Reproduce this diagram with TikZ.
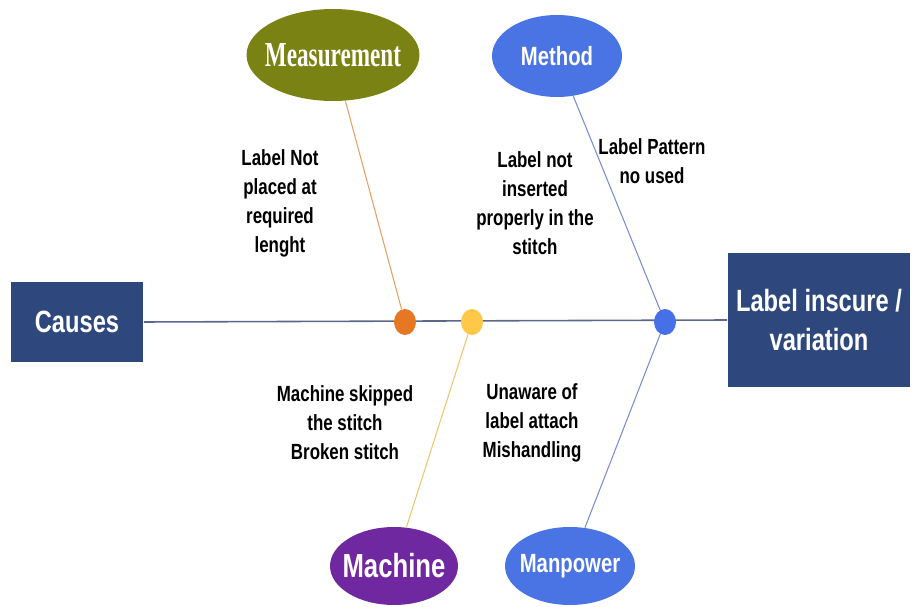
\documentclass[tikz,border=0pt]{standalone}
\usepackage{fontspec}
\setmainfont{Liberation Sans}
\newfontfamily\nar[FakeStretch=0.77]{Liberation Sans}
\newfontfamily\sernar[FakeStretch=0.66]{Liberation Serif}
\usetikzlibrary{shapes.geometric}
\definecolor{navy}{RGB}{46,72,126}
\definecolor{olive}{RGB}{122,130,20}
\definecolor{blueel}{RGB}{74,116,228}
\definecolor{purpleel}{RGB}{112,40,160}
\definecolor{dotor}{RGB}{230,120,36}
\definecolor{dotye}{RGB}{255,200,72}
\definecolor{dotbl}{RGB}{70,112,232}
\definecolor{spine}{RGB}{90,104,140}
\definecolor{lnor}{RGB}{232,160,100}
\definecolor{lnbl}{RGB}{120,140,210}
\definecolor{lnye}{RGB}{240,196,110}
\newcommand{\zb}[1]{\makebox[0pt]{#1}}
\tikzset{
  box/.style={rectangle, fill=navy, text=white, inner sep=0pt, align=center,
    font=\nar\bfseries\fontsize{17.5}{22}\selectfont},
  cat/.style={ellipse, inner sep=0pt, text=white},
  catfont/.style={font=\nar\bfseries\fontsize{15}{17}\selectfont},
  dot/.style={ellipse, minimum width=0.44cm, minimum height=0.52cm, inner sep=0pt},
  note/.style={align=center, text=black, inner sep=0pt,
    font=\nar\bfseries\fontsize{12.5}{16.5}\selectfont},
  branch/.style={line width=0.6pt}
}
\begin{document}
\begin{tikzpicture}[x=0.02cm,y=-0.02cm]
\useasboundingbox (0,0) rectangle (913,607);
% boxes
\node[box, minimum width=2.66cm, minimum height=1.62cm] (causes) at (77,322) {Causes};
\node[box, minimum width=3.66cm, minimum height=2.68cm] (effect) at (819,320) {Label inscure /\\variation};
% categories
\node[cat, fill=olive, minimum width=3.46cm, minimum height=1.84cm,
  font=\sernar\bfseries\fontsize{20}{22}\selectfont] (meas) at (333,55) {\zb{Measurement}};
\node[cat, catfont, fill=blueel, minimum width=2.6cm, minimum height=1.64cm] (method) at (557,56) {\zb{Method}};
\node[cat, fill=purpleel, minimum width=2.56cm, minimum height=1.56cm,
  font=\nar\bfseries\fontsize{19}{21}\selectfont] (machine) at (394,566) {\zb{Machine}};
\node[cat, catfont, fill=blueel, minimum width=2.6cm, minimum height=1.56cm] (manpower) at (570,566) {\zb{Manpower}};
% spine
\draw[spine, line width=0.9pt] (causes.east) -- (effect.west);
% dots
\node[dot, fill=dotor] (d1) at (405,322) {};
\node[dot, fill=dotye] (d2) at (472,322) {};
\node[dot, fill=dotbl] (d3) at (665,322) {};
% branches
\draw[branch, lnor] (meas) -- (d1);
\draw[branch, lnbl] (method) -- (d3);
\draw[branch, lnye] (d2) -- (machine);
\draw[branch, lnbl] (d3) -- (manpower);
% notes
\node[note] (n1) at (280,203) {Label Not\\placed at\\required\\lenght};
\node[note] (n2) at (535,203) {Label not\\inserted\\properly in the\\stitch};
\node[note] (n3) at (652,161) {Label Pattern\\no used};
\node[note] (n4) at (345,423) {Machine skipped\\the stitch\\Broken stitch};
\node[note] (n5) at (532,423) {Unaware of\\label attach\\Mishandling};
\end{tikzpicture}
\end{document}
